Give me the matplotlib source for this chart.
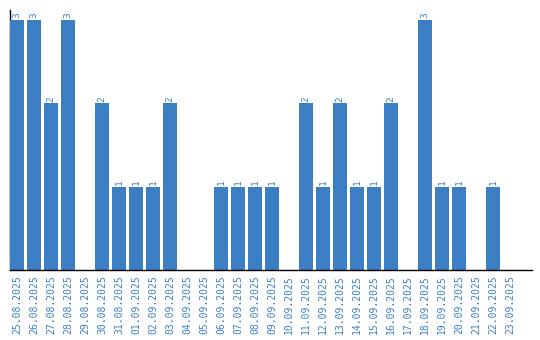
import matplotlib
matplotlib.use("Agg")
import matplotlib.pyplot as plt

dates = ["25.08.2025", "26.08.2025", "27.08.2025", "28.08.2025", "29.08.2025",
         "30.08.2025", "31.08.2025", "01.09.2025", "02.09.2025", "03.09.2025",
         "04.09.2025", "05.09.2025", "06.09.2025", "07.09.2025", "08.09.2025",
         "09.09.2025", "10.09.2025", "11.09.2025", "12.09.2025", "13.09.2025",
         "14.09.2025", "15.09.2025", "16.09.2025", "17.09.2025", "18.09.2025",
         "19.09.2025", "20.09.2025", "21.09.2025", "22.09.2025", "23.09.2025"]
counts = [3, 3, 2, 3, 0, 2, 1, 1, 1, 2,
          0, 0, 1, 1, 1, 1, 0, 2, 1, 2,
          1, 1, 2, 0, 3, 1, 1, 0, 1, 0]

blue = "#3b7ec4"

fig = plt.figure(figsize=(5.4, 3.4), dpi=100)
ax = fig.add_axes([10 / 540, 70 / 340, 522 / 540, 260 / 340])

x = list(range(len(dates)))
ax.bar(x, counts, width=0.82, color=blue, zorder=3)

for xi, c in zip(x, counts):
    if c > 0:
        ax.text(xi, c + 0.02, str(c), rotation=90, ha="center", va="bottom",
                color=blue, fontsize=6.8, family="DejaVu Sans Mono")

ax.set_xlim(-0.41, 30.3)
ax.set_ylim(0, 3.12)
ax.set_xticks(x)
ax.set_xticklabels(dates, rotation=90, color=blue, fontsize=7,
                   family="DejaVu Sans Mono")
ax.tick_params(axis="x", length=0, pad=4)
ax.set_yticks([])
ax.spines["top"].set_visible(False)
ax.spines["right"].set_visible(False)
ax.spines["left"].set_linewidth(1)
ax.spines["bottom"].set_linewidth(1)
ax.spines["bottom"].set_zorder(4)

fig.savefig("out.png", dpi=100)
